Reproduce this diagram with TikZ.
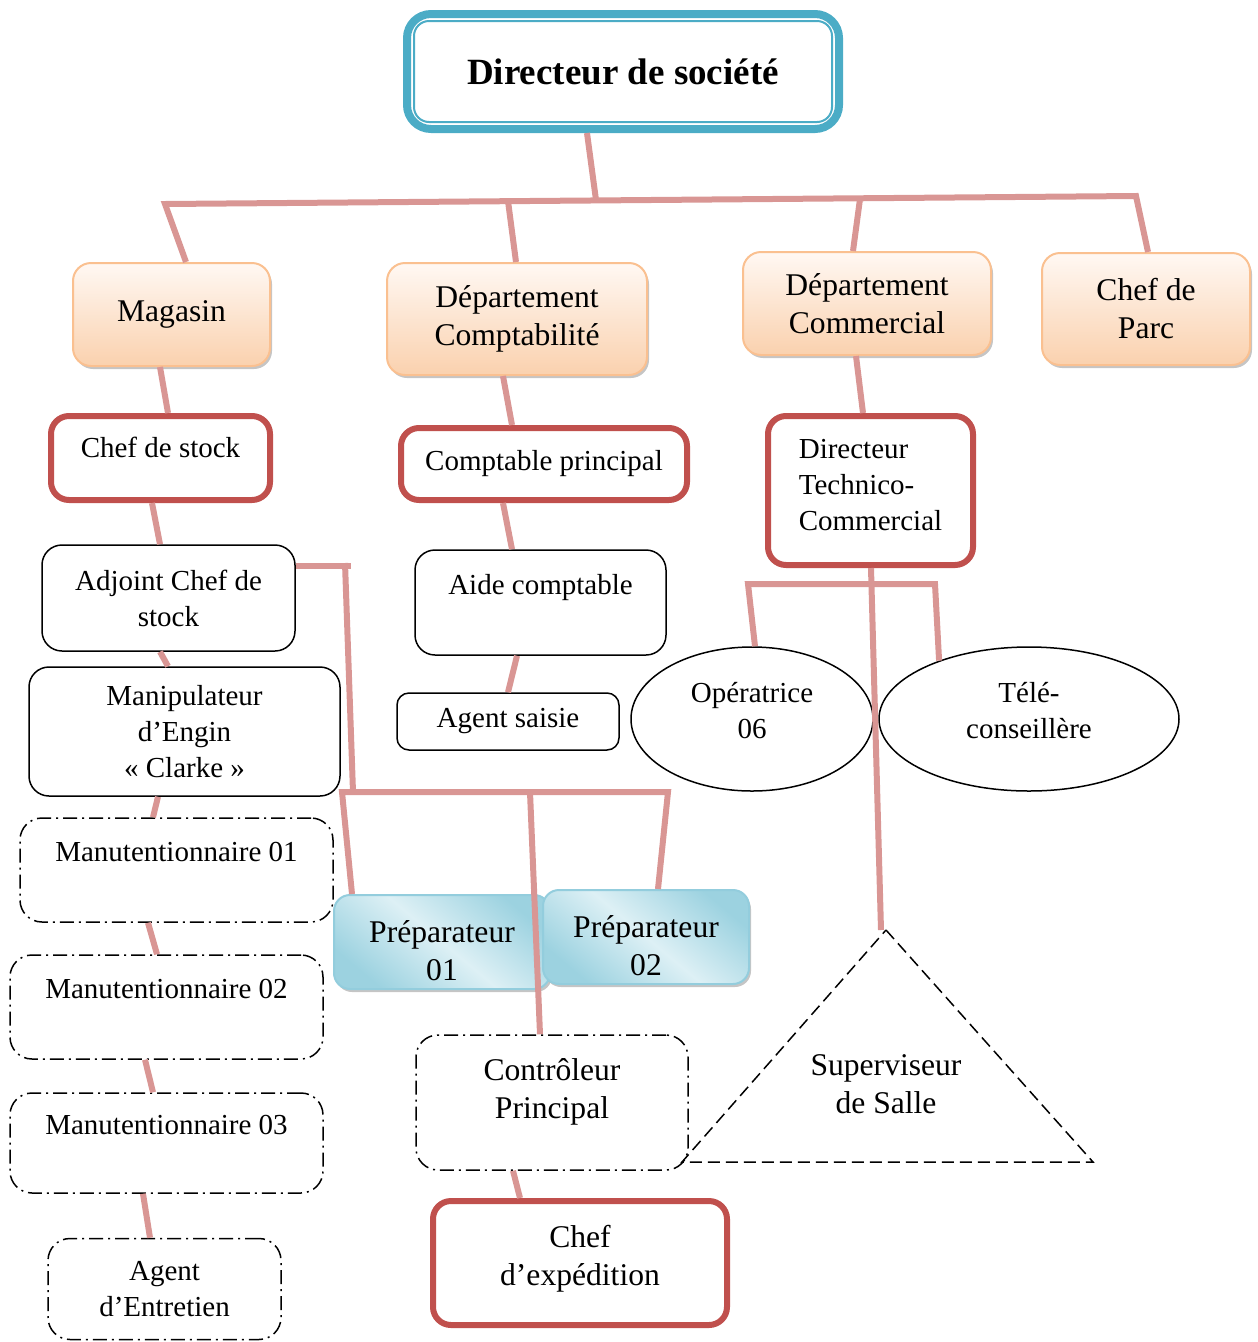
\documentclass[tikz,border=0pt]{standalone}
\usepackage{fontspec}
\setmainfont{Liberation Serif}
\usetikzlibrary{shapes.geometric,shadows,calc}
\definecolor{teal4}{HTML}{4BACC6}
\definecolor{pinkc}{HTML}{D99694}
\definecolor{redc}{HTML}{C0504D}
\definecolor{orline}{HTML}{FAC090}
\definecolor{orTop}{HTML}{FFF8F3}
\definecolor{orBot}{HTML}{FAD1AE}
\definecolor{blline}{HTML}{93CDDD}
\definecolor{blLight}{HTML}{DDF0F5}
\definecolor{blDark}{HTML}{9CD2E0}
\newcommand\mysz{\fontsize{29}{36}\selectfont}
\newcommand\mybigsz{\fontsize{31.6}{38}\selectfont}
\begin{document}
\begin{tikzpicture}[x=1pt,y=-1pt,
  base/.style={inner sep=0pt, align=center, font=\mysz},
  big/.style={font=\mybigsz},
  conn/.style={draw=pinkc, line width=6pt, line join=miter},
  titlebox/.style={base, draw=teal4, line width=8pt, rounded corners=24pt, fill=white,
     font=\fontsize{37}{44}\selectfont\bfseries},
  redbox/.style={base, draw=redc, line width=6pt, rounded corners=18pt, fill=white},
  thinbox/.style={base, draw=black, line width=1.5pt, rounded corners=20pt, fill=white},
  dashbox/.style={base, draw=black, line width=1.5pt, rounded corners=22pt,
     dash pattern=on 14pt off 5pt on 2pt off 5pt},
  orbox/.style={base, big, draw=orline, line width=2pt, rounded corners=18pt,
     top color=orTop, bottom color=orBot,
     drop shadow={shadow xshift=2pt, shadow yshift=-3pt, fill=black!45}},
  bluebox/.style={base, big, draw=blline, line width=2pt, rounded corners=16pt,
     shading=axis, top color=blDark, bottom color=blDark, middle color=blLight, shading angle=-40,
     drop shadow={shadow xshift=2pt, shadow yshift=-3pt, fill=black!45}},
  ell/.style={base, ellipse, draw=black, line width=1.5pt, fill=white},
  plain/.style={base},
]
\useasboundingbox (0,0) rectangle (1258,1342);

% ---- nodes ----
\node[titlebox, minimum width=432pt, minimum height=115pt] (dir) at (623,71.5) {Directeur de société};
\draw[teal4, line width=2pt, rounded corners=15pt]
  ([shift={(11pt,-11pt)}]dir.north west) rectangle ([shift={(-11pt,11pt)}]dir.south east);

\node[orbox, minimum width=197pt, minimum height=103pt] (mag) at (171.5,314.5) {Magasin};
\node[orbox, minimum width=260pt, minimum height=112pt] (dcompta) at (517,319) {Département\\Comptabilité};
\node[orbox, minimum width=248pt, minimum height=103pt] (dcomm) at (867,303.5) {Département\\Commercial};
\node[orbox, minimum width=208pt, minimum height=112pt] (parc) at (1146,309) {Chef de\\Parc};

\node[redbox, minimum width=219pt, minimum height=84pt] (cstock) at (160.5,458) {Chef de stock\\[-15pt]\mbox{}};
\node[redbox, minimum width=286pt, minimum height=72pt] (cprinc) at (544,464) {Comptable principal};
\node[redbox, minimum width=205pt, minimum height=149pt, align=left] (dtc) at (870.5,490.5) {Directeur\\Technico-\\Commercial\\[-24pt]\mbox{}};
\node[redbox, big, minimum width=294pt, minimum height=124pt] (cexp) at (580,1263) {Chef\\d’expédition\\[-22pt]\mbox{}};

\node[thinbox, minimum width=253pt, minimum height=106pt] (adj) at (168.5,598) {Adjoint Chef de\\stock};
\node[thinbox, minimum width=311pt, minimum height=129pt] (manip) at (184.5,731.5) {Manipulateur\\d’Engin\\«~Clarke~»};
\node[thinbox, minimum width=251pt, minimum height=105pt] (aide) at (540.5,602.5) {Aide comptable\\\mbox{}};
\node[thinbox, minimum width=222pt, minimum height=57pt, rounded corners=12pt] (saisie) at (508,721.5) {Agent saisie};

\node[dashbox, minimum width=313pt, minimum height=104pt] (m1) at (176.5,870) {Manutentionnaire 01\\\mbox{}};
\node[dashbox, minimum width=313pt, minimum height=104pt] (m2) at (166.5,1007) {Manutentionnaire 02\\\mbox{}};
\node[dashbox, minimum width=313pt, minimum height=100pt] (m3) at (166.5,1143) {Manutentionnaire 03\\\mbox{}};
\node[dashbox, minimum width=233pt, minimum height=101pt] (ent) at (164.5,1289) {Agent\\d’Entretien};
\node[dashbox, big, minimum width=272pt, minimum height=135pt] (ctrl) at (552,1102.5) {Contrôleur\\Principal\\[-9pt]\mbox{}};

\node[ell, minimum width=242pt, minimum height=144pt] (op) at (752,719) {Opératrice\\06\\[-18pt]\mbox{}};
\node[ell, minimum width=300pt, minimum height=144pt] (tele) at (1029,719) {Télé-\\conseillère\\[-18pt]\mbox{}};

\node[bluebox, minimum width=216pt, minimum height=94pt] (p1) at (442,942) {\mbox{}\\[2pt]Préparateur\\01};
\node[bluebox, minimum width=206pt, minimum height=94pt] (p2) at (646,937) {\mbox{}\\[2pt]Préparateur\\02};

\coordinate (apex) at (886,930);
\draw[black, line width=1.5pt, dash pattern=on 12pt off 6pt]
  (apex) -- (1093,1162) -- (682,1162) -- cycle;
\node[plain, big] (sup) at (886,1084) {Superviseur\\de Salle};

% ---- junction points ----
\coordinate (j0) at (596,200);
\coordinate (bl) at (165,204);
\coordinate (br) at (1136,196);
\coordinate (b2) at (508,201);
\coordinate (b3) at (860,199);
\coordinate (a0) at (351,566);
\coordinate (a1) at (345,563);
\coordinate (a2) at (353,792);
\coordinate (h1) at (342,792);
\coordinate (h2) at (668,792);
\coordinate (h3) at (530,792);
\coordinate (t1) at (748,584);
\coordinate (t2) at (935,584);

% ---- connectors ----
\draw[conn] ([xshift=-36pt]dir.south) -- (j0);
\draw[conn] ([xshift=14.5pt]mag.north) -- (bl) -- (br) -- ([xshift=2pt]parc.north);
\draw[conn] (b2) -- ([xshift=-1pt]dcompta.north);
\draw[conn] (b3) -- ([xshift=-14pt]dcomm.north);

\draw[conn] ([xshift=-11.5pt]mag.south) -- ([xshift=7.5pt]cstock.north);
\draw[conn] ([xshift=-14pt]dcompta.south) -- ([xshift=-32pt]cprinc.north);
\draw[conn] ([xshift=-11pt]dcomm.south) -- ([xshift=-7.5pt]dtc.north);

\draw[conn] ([xshift=-8.5pt]cstock.south) -- ([xshift=-8.5pt]adj.north);
\draw[conn] ([xshift=-41pt]cprinc.south) -- ([xshift=-28.5pt]aide.north);
\draw[conn] ([xshift=-23.5pt]aide.south) -- (saisie.north);
\draw[conn] ([xshift=-8.5pt]adj.south) -- ([xshift=-16.5pt]manip.north);
\draw[conn] ([xshift=-26.5pt]manip.south) -- ([xshift=-23.5pt]m1.north);
\draw[conn] ([xshift=-28.5pt]m1.south) -- ([xshift=-9.5pt]m2.north);
\draw[conn] ([xshift=-21.5pt]m2.south) -- ([xshift=-13.5pt]m3.north);
\draw[conn] ([xshift=-23.5pt]m3.south) -- ([xshift=-14.5pt]ent.north);

\draw[conn] ([yshift=32pt]adj.east) -- (a0);
\draw[conn] (a1) -- (a2);
\draw[conn] ([xshift=-90pt]p1.north) -- (h1) -- (h2) -- ([xshift=12pt]p2.north);
\draw[conn] (h3) -- ([xshift=-12pt]ctrl.north);
\draw[conn] ([xshift=-39pt]ctrl.south) -- ([xshift=-60pt]cexp.north);

\draw[conn] ([xshift=3pt]op.north) -- (t1) -- (t2) -- (tele.147);
\draw[conn] ([xshift=0.5pt]dtc.south) -- ([xshift=-5pt]apex);
\end{tikzpicture}
\end{document}
